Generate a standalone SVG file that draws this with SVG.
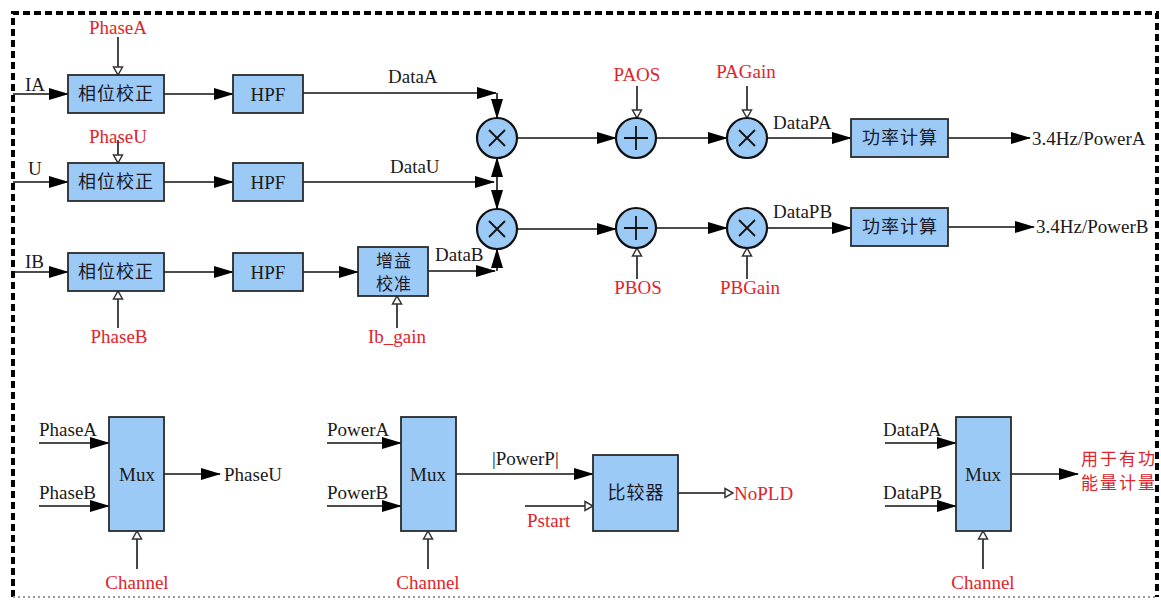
<svg xmlns="http://www.w3.org/2000/svg" width="1161" height="601" viewBox="0 0 1161 601">
  <style>
    .box { fill: #9ccaf6; stroke: #2a2a2a; stroke-width: 1.8; }
    .node { fill: #9ccaf6; stroke: #111; stroke-width: 2.2; }
    .sym { stroke: #111; stroke-width: 1.8; fill: none; }
    .wire { stroke: #111; stroke-width: 1.6; fill: none; }
    .ctl { stroke: #333; stroke-width: 1.8; fill: none; }
    .t { font-family: "Liberation Serif", "Times New Roman", serif; font-size: 19px; fill: #1a1a1a; }
    .r { font-family: "Liberation Serif", "Times New Roman", serif; font-size: 19px; fill: #e0242c; }
    .cn { font-family: "Noto Sans CJK SC", "Noto Sans", sans-serif; font-size: 18px; fill: #1a1a2a; letter-spacing: 1px; }
    .cn2 { font-family: "Noto Sans CJK SC", "Noto Sans", sans-serif; font-size: 17px; fill: #1a1a2a; letter-spacing: 1px; }
    .cnr { font-family: "Noto Sans CJK SC", "Noto Sans", sans-serif; font-size: 17px; fill: #e0242c; letter-spacing: 2px; }
  </style>
  <defs>
    <marker id="arrow" markerUnits="userSpaceOnUse" markerWidth="20" markerHeight="12" refX="19" refY="6" orient="auto-start-reverse">
      <path d="M0,0 L20,6 L0,12 z" fill="#000"/>
    </marker>
    <marker id="open" markerUnits="userSpaceOnUse" markerWidth="10" markerHeight="12" refX="9" refY="6" orient="auto">
      <path d="M1,1.5 L9,6 L1,10.5 z" fill="#fff" stroke="#333" stroke-width="1.5"/>
    </marker>
  </defs>

  <!-- frame -->
  <g id="frame">
    <path d="M13,597 L13,13 L1157,13 L1157,597" fill="none" stroke="#000" stroke-width="4" stroke-dasharray="7,4"/>
    <line x1="13" y1="597" x2="1157" y2="597" stroke="#999" stroke-width="2" stroke-dasharray="2,3"/>
  </g>

  <!-- connectors -->
  <g id="connectors">
    <!-- inputs -->
    <line class="wire" x1="13" y1="94" x2="68" y2="94" marker-end="url(#arrow)"/>
    <line class="wire" x1="13" y1="182" x2="68" y2="182" marker-end="url(#arrow)"/>
    <line class="wire" x1="13" y1="272" x2="68" y2="272" marker-end="url(#arrow)"/>
    <!-- phase correction to HPF -->
    <line class="wire" x1="164" y1="94" x2="233" y2="94" marker-end="url(#arrow)"/>
    <line class="wire" x1="164" y1="182" x2="233" y2="182" marker-end="url(#arrow)"/>
    <line class="wire" x1="164" y1="272" x2="233" y2="272" marker-end="url(#arrow)"/>
    <line class="wire" x1="303" y1="272" x2="358" y2="272" marker-end="url(#arrow)"/>
    <!-- phase parameters -->
    <line class="ctl" x1="118" y1="37" x2="118" y2="75" marker-end="url(#open)"/>
    <line class="ctl" x1="118" y1="140" x2="118" y2="163" marker-end="url(#open)"/>
    <line class="ctl" x1="118" y1="328" x2="118" y2="291" marker-end="url(#open)"/>
    <line class="ctl" x1="397" y1="328" x2="397" y2="296" marker-end="url(#open)"/>
    <!-- data into multipliers -->
    <line class="wire" x1="303" y1="93" x2="496" y2="93" marker-end="url(#arrow)"/>
    <line class="wire" x1="497" y1="93" x2="497" y2="118" marker-end="url(#arrow)"/>
    <line class="wire" x1="303" y1="182" x2="494" y2="182" marker-end="url(#arrow)"/>
    <line class="wire" x1="497" y1="158" x2="497" y2="209" marker-start="url(#arrow)" marker-end="url(#arrow)"/>
    <line class="wire" x1="428" y1="271" x2="495" y2="271" marker-end="url(#arrow)"/>
    <line class="wire" x1="497" y1="271" x2="497" y2="249" marker-end="url(#arrow)"/>
    <!-- multiplier to adder to gain -->
    <line class="wire" x1="517" y1="138" x2="616" y2="138" marker-end="url(#arrow)"/>
    <line class="wire" x1="517" y1="229" x2="616" y2="229" marker-end="url(#arrow)"/>
    <line class="wire" x1="656" y1="138" x2="727" y2="138" marker-end="url(#arrow)"/>
    <line class="wire" x1="656" y1="228" x2="727" y2="228" marker-end="url(#arrow)"/>
    <line class="ctl" x1="637" y1="86" x2="637" y2="118" marker-end="url(#open)"/>
    <line class="ctl" x1="747" y1="86" x2="747" y2="118" marker-end="url(#open)"/>
    <line class="ctl" x1="637" y1="279" x2="637" y2="248" marker-end="url(#open)"/>
    <line class="ctl" x1="747" y1="279" x2="747" y2="248" marker-end="url(#open)"/>
    <line class="wire" x1="767" y1="138" x2="851" y2="138" marker-end="url(#arrow)"/>
    <line class="wire" x1="767" y1="228" x2="851" y2="228" marker-end="url(#arrow)"/>
    <!-- power outputs -->
    <line class="wire" x1="948" y1="138" x2="1030" y2="138" marker-end="url(#arrow)"/>
    <line class="wire" x1="948" y1="227" x2="1034" y2="227" marker-end="url(#arrow)"/>

    <!-- mux 1 -->
    <line class="wire" x1="39" y1="443" x2="109" y2="443" marker-end="url(#arrow)"/>
    <line class="wire" x1="39" y1="506" x2="109" y2="506" marker-end="url(#arrow)"/>
    <line class="wire" x1="164" y1="474" x2="220" y2="474" marker-end="url(#arrow)"/>
    <line class="ctl" x1="137" y1="569" x2="137" y2="531" marker-end="url(#open)"/>
    <!-- mux 2 and comparator -->
    <line class="wire" x1="327" y1="443" x2="401" y2="443" marker-end="url(#arrow)"/>
    <line class="wire" x1="327" y1="506" x2="401" y2="506" marker-end="url(#arrow)"/>
    <line class="wire" x1="456" y1="474" x2="593" y2="474" marker-end="url(#arrow)"/>
    <line class="ctl" x1="428" y1="569" x2="428" y2="531" marker-end="url(#open)"/>
    <line class="wire" x1="525" y1="506" x2="593" y2="506" marker-end="url(#open)"/>
    <line class="wire" x1="678" y1="493" x2="733" y2="493" marker-end="url(#open)"/>
    <!-- mux 3 -->
    <line class="wire" x1="885" y1="443" x2="956" y2="443" marker-end="url(#arrow)"/>
    <line class="wire" x1="885" y1="506" x2="956" y2="506" marker-end="url(#arrow)"/>
    <line class="wire" x1="1011" y1="474" x2="1078" y2="474" marker-end="url(#arrow)"/>
    <line class="ctl" x1="983" y1="569" x2="983" y2="531" marker-end="url(#open)"/>
  </g>

  <!-- phase correction blocks -->
  <g id="phase-a">
    <rect class="box" x="68" y="75" width="96" height="38"/>
    <text class="cn" x="116" y="100" text-anchor="middle">相位校正</text>
  </g>
  <g id="phase-u">
    <rect class="box" x="68" y="163" width="96" height="38"/>
    <text class="cn" x="116" y="188" text-anchor="middle">相位校正</text>
  </g>
  <g id="phase-b">
    <rect class="box" x="68" y="253" width="96" height="38"/>
    <text class="cn" x="116" y="278" text-anchor="middle">相位校正</text>
  </g>

  <!-- high-pass filters -->
  <g id="hpf-a">
    <rect class="box" x="233" y="75" width="70" height="38"/>
    <text class="t" x="268" y="101" text-anchor="middle">HPF</text>
  </g>
  <g id="hpf-u">
    <rect class="box" x="233" y="163" width="70" height="38"/>
    <text class="t" x="268" y="189" text-anchor="middle">HPF</text>
  </g>
  <g id="hpf-b">
    <rect class="box" x="233" y="253" width="70" height="38"/>
    <text class="t" x="268" y="279" text-anchor="middle">HPF</text>
  </g>

  <!-- gain calibration -->
  <g id="gain-cal">
    <rect class="box" x="358" y="247" width="70" height="49"/>
    <text class="cn2" x="394" y="267" text-anchor="middle">增益</text>
    <text class="cn2" x="394" y="290" text-anchor="middle">校准</text>
  </g>

  <!-- multipliers and adders -->
  <g id="mul-a">
    <circle class="node" cx="497" cy="138" r="20"/>
    <path class="sym" d="M489,130 L505,146 M505,130 L489,146"/>
  </g>
  <g id="mul-b">
    <circle class="node" cx="497" cy="229" r="20"/>
    <path class="sym" d="M489,221 L505,237 M505,221 L489,237"/>
  </g>
  <g id="add-a">
    <circle class="node" cx="636" cy="138" r="20"/>
    <path class="sym" d="M624,138 L648,138 M636,126 L636,150"/>
  </g>
  <g id="add-b">
    <circle class="node" cx="636" cy="228" r="20"/>
    <path class="sym" d="M624,228 L648,228 M636,216 L636,240"/>
  </g>
  <g id="gain-a">
    <circle class="node" cx="747" cy="138" r="20"/>
    <path class="sym" d="M739,130 L755,146 M755,130 L739,146"/>
  </g>
  <g id="gain-b">
    <circle class="node" cx="747" cy="228" r="20"/>
    <path class="sym" d="M739,220 L755,236 M755,220 L739,236"/>
  </g>

  <!-- power calculation -->
  <g id="power-a">
    <rect class="box" x="851" y="119" width="97" height="38"/>
    <text class="cn" x="900" y="144" text-anchor="middle">功率计算</text>
  </g>
  <g id="power-b">
    <rect class="box" x="851" y="208" width="97" height="38"/>
    <text class="cn" x="900" y="233" text-anchor="middle">功率计算</text>
  </g>

  <!-- multiplexers and comparator -->
  <g id="mux-phase">
    <rect class="box" x="109" y="417" width="55" height="114"/>
    <text class="t" x="137" y="481" text-anchor="middle">Mux</text>
  </g>
  <g id="mux-power">
    <rect class="box" x="401" y="417" width="55" height="114"/>
    <text class="t" x="428" y="481" text-anchor="middle">Mux</text>
  </g>
  <g id="comparator">
    <rect class="box" x="593" y="455" width="85" height="76"/>
    <text class="cn" x="636" y="499" text-anchor="middle">比较器</text>
  </g>
  <g id="mux-data">
    <rect class="box" x="956" y="417" width="55" height="114"/>
    <text class="t" x="983" y="481" text-anchor="middle">Mux</text>
  </g>

  <!-- labels -->
  <g id="labels">
    <text class="r" x="118" y="34" text-anchor="middle">PhaseA</text>
    <text class="r" x="118" y="143" text-anchor="middle">PhaseU</text>
    <text class="r" x="119" y="343" text-anchor="middle">PhaseB</text>
    <text class="r" x="397" y="343" text-anchor="middle">Ib_gain</text>
    <text class="t" x="25" y="91">IA</text>
    <text class="t" x="28" y="175">U</text>
    <text class="t" x="25" y="268">IB</text>
    <text class="t" x="388" y="83">DataA</text>
    <text class="t" x="390" y="173">DataU</text>
    <text class="t" x="435" y="261">DataB</text>
    <text class="r" x="637" y="81" text-anchor="middle">PAOS</text>
    <text class="r" x="746" y="78" text-anchor="middle">PAGain</text>
    <text class="r" x="638" y="294" text-anchor="middle">PBOS</text>
    <text class="r" x="750" y="294" text-anchor="middle">PBGain</text>
    <text class="t" x="773" y="129">DataPA</text>
    <text class="t" x="773" y="218">DataPB</text>
    <text class="t" x="1032" y="145">3.4Hz/PowerA</text>
    <text class="t" x="1036" y="233">3.4Hz/PowerB</text>

    <text class="t" x="39" y="436">PhaseA</text>
    <text class="t" x="39" y="499">PhaseB</text>
    <text class="t" x="224" y="481">PhaseU</text>
    <text class="r" x="137" y="589" text-anchor="middle">Channel</text>

    <text class="t" x="327" y="436">PowerA</text>
    <text class="t" x="327" y="499">PowerB</text>
    <text class="t" x="492" y="465">|PowerP|</text>
    <text class="r" x="527" y="527">Pstart</text>
    <text class="r" x="734" y="500">NoPLD</text>
    <text class="r" x="428" y="589" text-anchor="middle">Channel</text>

    <text class="t" x="883" y="436">DataPA</text>
    <text class="t" x="883" y="499">DataPB</text>
    <text class="cnr" x="1081" y="465">用于有功</text>
    <text class="cnr" x="1081" y="489">能量计量</text>
    <text class="r" x="983" y="589" text-anchor="middle">Channel</text>
  </g>
</svg>
